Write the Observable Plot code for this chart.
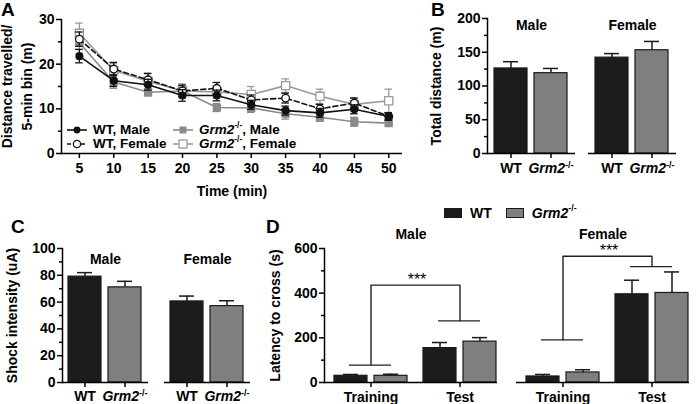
<!DOCTYPE html>
<html>
<head>
<meta charset="utf-8">
<script src="https://cdn.jsdelivr.net/npm/d3@7"></script>
<script src="https://cdn.jsdelivr.net/npm/@observablehq/plot@0.6"></script>
<style>
  html, body { margin: 0; padding: 0; background: #fff; }
  #fig { position: relative; width: 698px; height: 404px; overflow: hidden; background: #fff;
         font-family: "Liberation Sans", Arial, sans-serif; font-weight: bold; color: #000; }
  .panel { position: absolute; }
  .panel svg { overflow: visible; }
  .letter { position: absolute; font-size: 19px; font-weight: bold; line-height: 1; }
  .legA { position: absolute; font-size: 13.5px; display: flex; align-items: center; white-space: nowrap; line-height: 1; }
  .legA svg { margin-right: 5px; }
  .legD { position: absolute; font-size: 14px; display: flex; align-items: center; white-space: nowrap; line-height: 1; }
  .sw { display: inline-block; width: 16px; height: 8px; border: 1px solid #1a1a1a; margin-right: 8px; }
  sup { font-size: 0.62em; vertical-align: 0; position: relative; top: -0.55em; }
</style>
</head>
<body>
<div id="fig"></div>
<script>
// ---------------- DATA ----------------
// Panel A: distance travelled per 5-min bin (m)
const times = [5, 10, 15, 20, 25, 30, 35, 40, 45, 50];
const wtMale      = [21.8, 16.3, 15.4, 13.0, 13.0, 10.9, 9.6, 9.1, 9.9, 8.3];
const wtMaleErr   = [1.5, 1.3, 1.2, 1.3, 1.2, 1.0, 1.0, 1.0, 1.0, 0.8];
const wtFemale    = [25.6, 18.9, 16.5, 14.0, 14.6, 12.0, 12.4, 10.0, 11.3, 8.3];
const wtFemaleErr = [1.6, 1.5, 1.4, 1.3, 1.3, 1.1, 1.1, 1.0, 1.1, 0.8];
const koMale      = [24.8, 16.0, 13.7, 14.0, 10.3, 10.2, 8.9, 8.1, 7.1, 6.8];
const koMaleErr   = [1.5, 1.4, 0.8, 1.2, 0.9, 1.0, 1.2, 0.9, 1.0, 0.6];
const koFemale    = [26.9, 18.6, 16.2, 14.0, 13.8, 13.2, 15.2, 12.8, 11.0, 11.8];
const koFemaleErr = [2.3, 1.5, 1.8, 1.6, 1.4, 1.8, 1.5, 1.6, 1.5, 2.6];
const yTicksA = [0, 10, 20, 30];
const yMinorA = [5, 15, 25];

// Groups
const sexes = ["Male", "Female"];
const genotypes = ["WT", "Grm2-/-"];
const phases = ["Training", "Test"];

// Panel B: total distance (m), order Male WT, Male KO, Female WT, Female KO
const totalDistance    = [126, 119, 142, 153];
const totalDistanceErr = [10, 7, 6, 13];
const yTicksB = [0, 50, 100, 150, 200];
const yMinorB = [25, 75, 125, 175];

// Panel C: shock intensity (uA)
const shock    = [79, 71, 60.5, 57];
const shockErr = [3, 4.5, 4, 4];
const yTicksC = [0, 20, 40, 60, 80, 100];
const yMinorC = [10, 30, 50, 70, 90];

// Panel D: latency to cross (s); order per sex: Training WT, Training KO, Test WT, Test KO
const latencyMale      = [30, 30, 154, 183];
const latencyMaleErr   = [6, 7, 25, 18];
const latencyFemale    = [27, 45, 395, 401];
const latencyFemaleErr = [9, 12, 63, 94];
const yTicksD = [0, 200, 400, 600];
const yMinorD = [100, 300, 500];
// significance brackets (per sex): training bar level, top level, test bar level
const bracketTrain = [78, 191];
const bracketTop   = [436, 565];
const bracketTest  = [276, 519];
const sigLabel = "***";

// ---------------- STYLE ----------------
const FONT = '"Liberation Sans", Arial, sans-serif';
const WT_FILL = "#1c1c1c", KO_FILL = "#7f7f82", OUTLINE = "#1a1a1a";
const baseStyle = {fontFamily: FONT, fontSize: "14px", fontWeight: "bold", background: "transparent", color: "#000", overflow: "visible"};
const KO = genotypes[1];
const fig = document.getElementById("fig");

function place(el, left, top) {
  const wrap = document.createElement("div");
  wrap.className = "panel";
  wrap.style.left = left + "px";
  wrap.style.top = top + "px";
  wrap.appendChild(el);
  fig.appendChild(wrap);
  styleGenotype(el);
}
function styleGenotype(root) {
  const ns = "http://www.w3.org/2000/svg";
  root.querySelectorAll("text").forEach(t => {
    if (t.textContent === KO) {
      t.textContent = "";
      const a = document.createElementNS(ns, "tspan");
      a.setAttribute("font-style", "italic");
      a.textContent = "Grm2";
      const b = document.createElementNS(ns, "tspan");
      b.setAttribute("font-size", "9px");
      b.setAttribute("dy", "-5");
      b.textContent = "-/-";
      t.append(a, b);
    }
  });
}

// ---------------- PANEL A ----------------
const seriesA = [
  {values: koFemale, errs: koFemaleErr, color: "#9a9a9a", symbol: "square", fill: "white", r: 4.6, dash: null},
  {values: koMale,   errs: koMaleErr,   color: "#8a8a8a", symbol: "square", fill: "#8a8a8a", r: 3.9, dash: null},
  {values: wtFemale, errs: wtFemaleErr, color: "#111", symbol: "circle", fill: "white", r: 3.8, dash: "5,3"},
  {values: wtMale,   errs: wtMaleErr,   color: "#111", symbol: "circle", fill: "#111", r: 3.4, dash: null}
];
const capA = 0.55;
function seriesMarks(s) {
  const data = times.map((t, i) => ({t, v: s.values[i], e: s.errs[i]}));
  return [
    Plot.ruleX(data, {x: "t", y1: d => d.v - d.e, y2: d => d.v + d.e, stroke: s.color, strokeWidth: 1.3}),
    Plot.ruleY(data, {y: d => d.v + d.e, x1: d => d.t - capA, x2: d => d.t + capA, stroke: s.color, strokeWidth: 1.3}),
    Plot.ruleY(data, {y: d => d.v - d.e, x1: d => d.t - capA, x2: d => d.t + capA, stroke: s.color, strokeWidth: 1.3}),
    Plot.line(data, {x: "t", y: "v", stroke: s.color, strokeWidth: 1.6, strokeDasharray: s.dash}),
    Plot.dot(data, {x: "t", y: "v", symbol: s.symbol, r: s.r, fill: s.fill, stroke: s.color, strokeWidth: 1.3})
  ];
}
const plotA = Plot.plot({
  width: 410, height: 200,
  marginLeft: 61, marginRight: 8, marginTop: 19, marginBottom: 47,
  style: baseStyle,
  x: {domain: [2.4, 52]},
  y: {domain: [0, 30]},
  marks: [
    ...seriesA.flatMap(seriesMarks),
    Plot.ruleY([0], {strokeWidth: 1.5}),
    Plot.frame({anchor: "left", strokeWidth: 1.5}),
    Plot.axisY({ticks: yTicksA, tickSize: 5, tickPadding: 2, strokeWidth: 1.5,
      label: "Distance travelled/", labelAnchor: "center", labelOffset: 59, labelArrow: "none"}),
    Plot.axisY({ticks: [], tickSize: 0, text: null,
      label: "5-min bin (m)", labelAnchor: "center", labelOffset: 39, labelArrow: "none"}),
    Plot.axisY({ticks: yMinorA, tickSize: 3, strokeWidth: 1.5, text: null, label: null}),
    Plot.axisX({ticks: times, tickSize: 5, tickPadding: 5, strokeWidth: 1.5,
      label: "Time (min)", labelAnchor: "center", labelOffset: 42, labelArrow: "none"})
  ]
});
place(plotA, 0, 0);

// ---------------- BAR PANEL helper (B, C) ----------------
function groupRows(values, errs) {
  return sexes.flatMap((sex, i) => genotypes.map((g, j) => ({sex, genotype: g, value: values[i * 2 + j], err: errs[i * 2 + j]})));
}
function barPanel({rows, width, height, marginLeft, marginRight, marginTop, marginBottom, yDomain, ticks, minor, label, labelOffset, sexDy, fxPad, xPad}) {
  return Plot.plot({
    width, height, marginLeft, marginRight, marginTop, marginBottom,
    style: baseStyle,
    fx: {domain: sexes, paddingInner: fxPad, paddingOuter: 0, axis: null},
    x: {domain: genotypes, paddingInner: 0.17, paddingOuter: 0.16, axis: null},
    y: {domain: yDomain, axis: null},
    color: {domain: genotypes, range: [WT_FILL, KO_FILL]},
    marks: [
      Plot.ruleX(rows, {fx: "sex", x: "genotype", y1: "value", y2: d => d.value + d.err, stroke: OUTLINE, strokeWidth: 1.5}),
      Plot.tickY(rows, {fx: "sex", x: "genotype", y: d => d.value + d.err, insetLeft: 9, insetRight: 9, stroke: OUTLINE, strokeWidth: 1.5}),
      Plot.barY(rows, {fx: "sex", x: "genotype", y: "value", fill: "genotype", stroke: OUTLINE, strokeWidth: 1.2}),
      Plot.ruleY([0], {strokeWidth: 1.5}),
      Plot.frame({anchor: "left", facetAnchor: "left", strokeWidth: 1.5}),
      Plot.axisY({ticks, tickSize: 5, tickPadding: 2, strokeWidth: 1.5,
        label, labelAnchor: "center", labelOffset, labelArrow: "none"}),
      Plot.axisY({ticks: minor, tickSize: 3, strokeWidth: 1.5, text: null, label: null}),
      Plot.axisX({tickSize: 5, tickPadding: xPad, strokeWidth: 1.5, label: null}),
      Plot.text(sexes, {fx: d => d, text: d => d, frameAnchor: "top", lineAnchor: "middle", dy: sexDy, fontSize: 14})
    ]
  });
}

// ---------------- PANEL B ----------------
const plotB = barPanel({
  rows: groupRows(totalDistance, totalDistanceErr),
  width: 298, height: 200, marginLeft: 87, marginRight: 22, marginTop: 18, marginBottom: 47,
  yDomain: [0, 200], ticks: yTicksB, minor: yMinorB,
  label: "Total distance (m)", labelOffset: 56, sexDy: 7, fxPad: 0.129, xPad: 5
});
place(plotB, 400, 0);

// ---------------- PANEL C ----------------
const plotC = barPanel({
  rows: groupRows(shock, shockErr),
  width: 260, height: 204, marginLeft: 61, marginRight: 10, marginTop: 48, marginBottom: 22,
  yDomain: [0, 100], ticks: yTicksC, minor: yMinorC,
  label: "Shock intensity (uA)", labelOffset: 55, sexDy: 11, fxPad: 0.16, xPad: 4
});
place(plotC, 0, 200);

// ---------------- PANEL D ----------------
const latencies = [latencyMale, latencyFemale];
const latErrs = [latencyMaleErr, latencyFemaleErr];
const rowsD = sexes.flatMap((sex, i) => phases.flatMap((p, k) => genotypes.map((g, j) => ({
  sex, phase: p, genotype: g, value: latencies[i][k * 2 + j], err: latErrs[i][k * 2 + j]
}))));
const wtD = rowsD.filter(d => d.genotype === genotypes[0]);
const koD = rowsD.filter(d => d.genotype === KO);
const bracketPath = sexes.flatMap((sex, i) => [
  {sex, phase: phases[0], y: bracketTrain[i]},
  {sex, phase: phases[0], y: bracketTop[i]},
  {sex, phase: phases[1], y: bracketTop[i]},
  {sex, phase: phases[1], y: bracketTest[i]}
]);
const bracketBars = sexes.flatMap((sex, i) => [
  {sex, phase: phases[0], y: bracketTrain[i]},
  {sex, phase: phases[1], y: bracketTest[i]}
]);
const stars = sexes.map((sex, i) => ({sex, phase: phases[0], y: bracketTop[i]}));

const errMarks = (data, dx, capL, capR) => [
  Plot.ruleX(data, {fx: "sex", x: "phase", y1: "value", y2: d => d.value + d.err, dx, stroke: OUTLINE, strokeWidth: 1.5}),
  Plot.tickY(data, {fx: "sex", x: "phase", y: d => d.value + d.err, insetLeft: capL, insetRight: capR, stroke: OUTLINE, strokeWidth: 1.5})
];
const plotD = Plot.plot({
  width: 436, height: 204, marginLeft: 61, marginRight: 8, marginTop: 48, marginBottom: 22,
  style: baseStyle,
  fx: {domain: sexes, paddingInner: 0.098, paddingOuter: 0, axis: null},
  x: {domain: phases, paddingInner: 0.178, paddingOuter: 0.056, align: 0.9, axis: null},
  y: {domain: [0, 600], axis: null},
  color: {domain: genotypes, range: [WT_FILL, KO_FILL]},
  marks: [
    ...errMarks(wtD, -20, 9, 49),
    ...errMarks(koD, 20, 49, 9),
    Plot.barY(wtD, {fx: "sex", x: "phase", y: "value", fill: "genotype", insetRight: 40, stroke: OUTLINE, strokeWidth: 1.2}),
    Plot.barY(koD, {fx: "sex", x: "phase", y: "value", fill: "genotype", insetLeft: 40, stroke: OUTLINE, strokeWidth: 1.2}),
    Plot.line(bracketPath, {fx: "sex", x: "phase", y: "y", z: "sex", stroke: "#222", strokeWidth: 1.4}),
    Plot.tickY(bracketBars, {fx: "sex", x: "phase", y: "y", insetLeft: 15, insetRight: 16, stroke: "#222", strokeWidth: 1.4}),
    Plot.text(stars, {fx: "sex", x: "phase", y: "y", text: () => sigLabel, dx: 46, dy: -5, fontSize: 16, fontWeight: "normal"}),
    Plot.ruleY([0], {strokeWidth: 1.5}),
    Plot.frame({anchor: "left", facetAnchor: "left", strokeWidth: 1.5}),
    Plot.axisY({ticks: yTicksD, tickSize: 5, tickPadding: 2, strokeWidth: 1.5,
      label: "Latency to cross (s)", labelAnchor: "center", labelOffset: 54, labelArrow: "none"}),
    Plot.axisY({ticks: yMinorD, tickSize: 3, strokeWidth: 1.5, text: null, label: null}),
    Plot.axisX({tickSize: 5, tickPadding: 5, strokeWidth: 1.5, label: null}),
    Plot.text(sexes, {fx: d => d, text: d => d, frameAnchor: "top", lineAnchor: "middle", dy: -14, fontSize: 14})
  ]
});
place(plotD, 262, 200);

// ---------------- LEGENDS & LETTERS ----------------
function addHTML(html) { fig.insertAdjacentHTML("beforeend", html); }
const grm = '<i>Grm2</i><sup>-/-</sup>';
const lineSw = (color, dash, marker) =>
  `<svg width="22" height="10"><line x1="1" x2="21" y1="5" y2="5" stroke="${color}" stroke-width="1.6" ${dash ? `stroke-dasharray="${dash}"` : ""}/>${marker}</svg>`;
addHTML(`<div class="legA" style="left:66px;top:123px">${lineSw("#111", null, '<circle cx="11" cy="5" r="3.4" fill="#111"/>')}WT, Male</div>`);
addHTML(`<div class="legA" style="left:66px;top:137px">${lineSw("#111", "4,3", '<circle cx="11" cy="5" r="3.6" fill="white" stroke="#111" stroke-width="1.3"/>')}WT, Female</div>`);
addHTML(`<div class="legA" style="left:172px;top:123px">${lineSw("#8a8a8a", null, '<rect x="7.5" y="1.5" width="7" height="7" fill="#8a8a8a"/>')}${grm}, Male</div>`);
addHTML(`<div class="legA" style="left:172px;top:137px">${lineSw("#9a9a9a", null, '<rect x="7" y="1" width="8" height="8" fill="white" stroke="#9a9a9a" stroke-width="1.3"/>')}${grm}, Female</div>`);

addHTML(`<div class="legD" style="left:444px;top:206px"><span class="sw" style="background:${WT_FILL}"></span>WT<span class="sw" style="background:${KO_FILL};margin-left:14px"></span>${grm}</div>`);

addHTML('<div class="letter" style="left:1px;top:0px">A</div>');
addHTML('<div class="letter" style="left:431px;top:0px">B</div>');
addHTML('<div class="letter" style="left:11px;top:217px">C</div>');
addHTML('<div class="letter" style="left:266px;top:217px">D</div>');
</script>
</body>
</html>
